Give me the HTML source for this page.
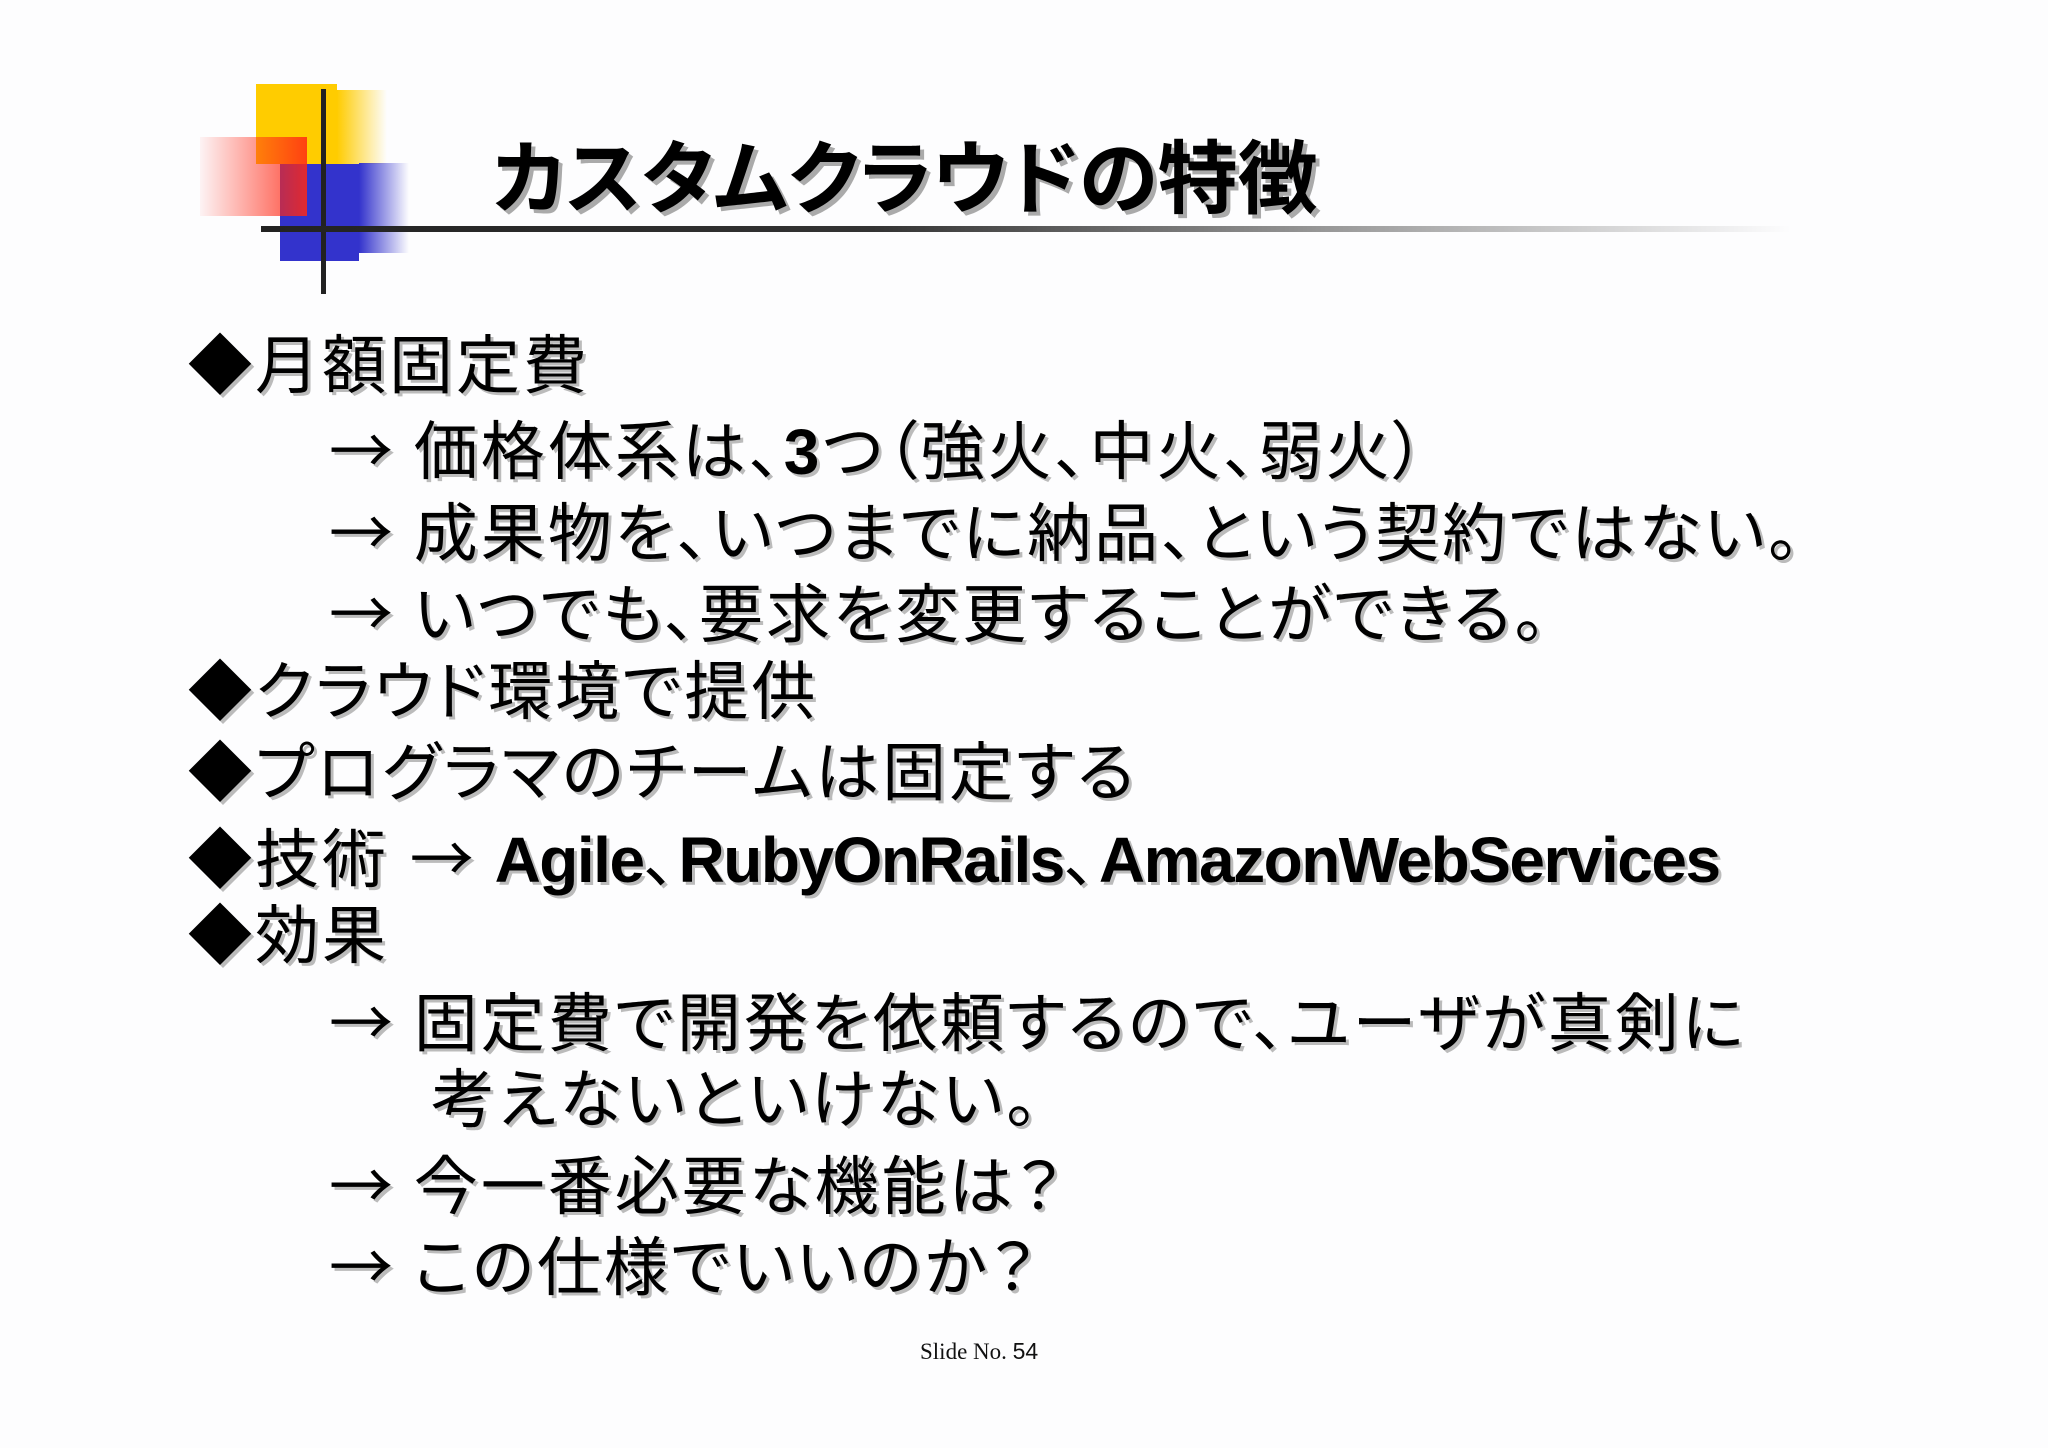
<!DOCTYPE html>
<html><head><meta charset="utf-8"><style>
html,body{margin:0;padding:0}
body{width:2048px;height:1448px;background:#fdfdfe;position:relative;overflow:hidden}
.a{position:absolute}
.t{position:absolute;white-space:nowrap;font-family:"Liberation Sans","Noto Sans CJK JP",sans-serif;font-size:64px;line-height:80px;color:#000;text-shadow:3px 3px 0 #bbb;font-feature-settings:"palt";letter-spacing:3px}
.r{font-family:"Noto Sans CJK JP",sans-serif;letter-spacing:0}
.l{font-family:"Liberation Sans",sans-serif;font-weight:bold;letter-spacing:-1.5px}
</style></head><body>
<div class="a" style="left:256px;top:84px;width:81px;height:80px;background:#ffcc00"></div>
<div class="a" style="left:337px;top:90px;width:50px;height:74px;background:linear-gradient(to right,#ffcc00,rgba(255,204,0,0))"></div>
<div class="a" style="left:280px;top:164px;width:79px;height:97px;background:#3333cc"></div>
<div class="a" style="left:359px;top:163px;width:50px;height:90px;background:linear-gradient(to right,#3333cc,rgba(51,51,204,0))"></div>
<div class="a" style="left:200px;top:137px;width:107px;height:79px;background:linear-gradient(to right,rgba(255,60,60,0.05),rgba(255,40,20,0.85))"></div>
<div class="a" style="left:321px;top:89px;width:5px;height:205px;background:#222"></div>
<div class="a" style="left:261px;top:226px;width:1530px;height:6px;background:linear-gradient(to right,#222 0%,#333 40%,#999 70%,rgba(220,220,220,0) 100%)"></div>
<div class="t" style="left:492px;top:128px;font-size:80px;line-height:90px;font-weight:bold;font-family:'Noto Sans CJK JP',sans-serif;text-shadow:4px 4px 0 #aaa;letter-spacing:0px">カスタムクラウドの特徴</div>

<div class="t" style="left:188px;top:326px">◆月額固定費</div>
<div class="t" style="left:329px;top:407px"><span class="r">→</span> 価格体系は、<b>3</b>つ（強火、中火、弱火）</div>
<div class="t" style="left:329px;top:489px"><span class="r">→</span> 成果物を、いつまでに納品、という契約ではない。</div>
<div class="t" style="left:329px;top:570px"><span class="r">→</span> いつでも、要求を変更することができる。</div>
<div class="t" style="left:188px;top:652px">◆クラウド環境で提供</div>
<div class="t" style="left:188px;top:733px">◆プログラマのチームは固定する</div>
<div class="t" style="left:188px;top:815px">◆技術 <span class="r">→</span> <span class="l">Agile</span>、<span class="l">RubyOnRails</span>、<span class="l">AmazonWebServices</span></div>
<div class="t" style="left:188px;top:896px">◆効果</div>
<div class="t" style="left:329px;top:979px"><span class="r">→</span> 固定費で開発を依頼するので、ユーザが真剣に</div>
<div class="t" style="left:431px;top:1060px">考えないといけない。</div>
<div class="t" style="left:329px;top:1142px"><span class="r">→</span> 今一番必要な機能は？</div>
<div class="t" style="left:329px;top:1223px"><span class="r">→</span> この仕様でいいのか？</div>

<div class="a" style="left:920px;top:1336px;font-family:'Liberation Serif',serif;font-size:23px;line-height:30px;color:#111;white-space:nowrap">Slide No. <span style="font-family:'Liberation Sans',sans-serif">54</span></div>
</body></html>
